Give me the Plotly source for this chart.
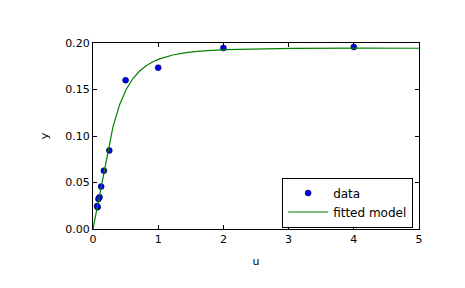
import plotly.graph_objects as go

u_data = [4.0, 2.0, 1.0, 0.5, 0.25, 0.167, 0.125, 0.1, 0.0833, 0.0714, 0.0625]
y_data = [0.1957, 0.1947, 0.1735, 0.1600, 0.0844, 0.0627, 0.0456, 0.0342, 0.0323, 0.0235, 0.0246]

u_fit = [0.0, 0.10204, 0.20408, 0.30612, 0.40816, 0.5102, 0.61224, 0.71429, 0.81633,
         0.91837, 1.02041, 1.22449, 1.42857, 1.63265, 2.04082, 2.55102, 3.06122, 4.08163, 5.0]
y_fit = [0.0, 0.03628, 0.07669, 0.10975, 0.13366, 0.15027, 0.16178, 0.16985, 0.17563,
         0.17984, 0.18296, 0.18712, 0.18963, 0.19121, 0.19293, 0.19385, 0.19422, 0.19439, 0.19433]

x_ticks = [0, 1, 2, 3, 4, 5]
y_ticks = [0.0, 0.05, 0.10, 0.15, 0.20]
y_tick_labels = ["0.00", "0.05", "0.10", "0.15", "0.20"]

fig = go.Figure()
fig.add_trace(go.Scatter(x=u_data, y=y_data, mode="markers", name="data",
                         marker=dict(color="#0000ff", size=6, line=dict(color="black", width=0.5))))
fig.add_trace(go.Scatter(x=u_fit, y=y_fit, mode="lines", name="fitted model",
                         line=dict(color="#008000", width=1.2)))

axis_common = dict(showline=True, linecolor="black", linewidth=1, mirror="ticks",
                   ticks="inside", ticklen=4, tickcolor="black", showgrid=False,
                   zeroline=False, tickfont=dict(family="DejaVu Sans", size=11, color="black"))
fig.update_xaxes(range=[0, 5], tickvals=x_ticks, title=dict(text="u", standoff=12,
                 font=dict(family="DejaVu Sans", size=11, color="black")), **axis_common)
fig.update_yaxes(range=[0, 0.2], tickvals=y_ticks, ticktext=y_tick_labels,
                 title=dict(text="y", standoff=14, font=dict(family="DejaVu Sans", size=11, color="black")),
                 **axis_common)

fig.update_layout(width=465, height=288, margin=dict(l=93, r=46, t=43, b=59),
                  paper_bgcolor="white", plot_bgcolor="white",
                  font=dict(family="DejaVu Sans", size=11, color="black"),
                  legend=dict(x=0.982, y=0.008, xanchor="right", yanchor="bottom",
                              bordercolor="black", borderwidth=1, bgcolor="white",
                              font=dict(family="DejaVu Sans", size=12, color="black"),
                              itemwidth=40, tracegroupgap=0))

fig.write_html("out.html")
